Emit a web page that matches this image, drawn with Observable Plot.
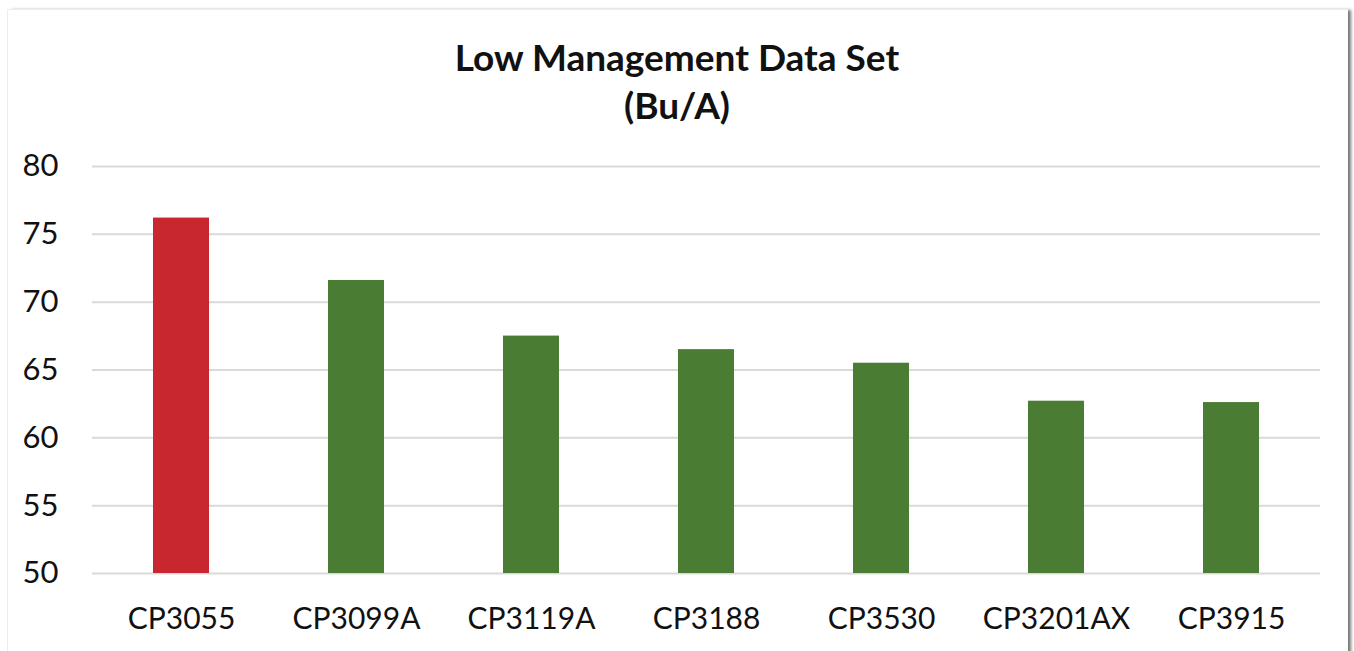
<!DOCTYPE html>
<html><head><meta charset="utf-8">
<script src="https://cdn.jsdelivr.net/npm/d3@7"></script>
<script src="https://cdn.jsdelivr.net/npm/@observablehq/plot@0.6"></script>
<style>
html,body{margin:0;padding:0;background:#fff;width:1354px;height:651px;overflow:hidden;}
#frame{position:absolute;left:7px;top:9px;width:1340px;height:700px;border:1px solid #ededed;border-right:none;box-shadow:4px 0 3px -1px #777;pointer-events:none;}
#title{position:relative;height:140px;box-sizing:border-box;padding-top:33px;text-align:center;font-family:Lato,"Open Sans",sans-serif;font-weight:bold;font-size:37px;line-height:48px;color:#111;}
#chart{position:relative;}
</style></head>
<body>
<div id="frame"></div>
<div id="title">Low Management Data Set<br>(Bu/A)</div>
<div id="chart"></div>
<script>
const varieties = ["CP3055","CP3099A","CP3119A","CP3188","CP3530","CP3201AX","CP3915"];
const yields = [76.2,71.6,67.5,66.5,65.5,62.7,62.6];
const yTicks = [50,55,60,65,70,75,80];
const highlighted = "CP3055";

const data = varieties.map((v,i)=>({variety:v, yield:yields[i], group: v===highlighted ? "highlight" : "other"}));

const chart = Plot.plot({
  width: 1354,
  height: 511,
  marginTop: 26,
  marginBottom: 78,
  marginLeft: 92,
  marginRight: 34,
  style: {fontFamily: 'Lato, "Open Sans", sans-serif', color: "#111", background: "transparent"},
  x: {domain: varieties, paddingInner: 0.68, paddingOuter: 0.34, align: 0.5},
  y: {domain: [50,80]},
  color: {domain: ["highlight","other"], range: ["#C8272F","#4A7C33"]},
  marks: [
    Plot.gridY(yTicks, {stroke: "#d9d9d9", strokeOpacity: 1, strokeWidth: 2}),
    Plot.barY(data, {x: "variety", y1: 50, y2: "yield", fill: "group"}),
    Plot.axisY(yTicks, {tickSize: 0, tickPadding: 34, fontSize: 31, label: null}),
    Plot.axisX({tickSize: 0, tickPadding: 34, fontSize: 30, label: null})
  ]
});
document.getElementById("chart").appendChild(chart);
</script>
</body></html>
